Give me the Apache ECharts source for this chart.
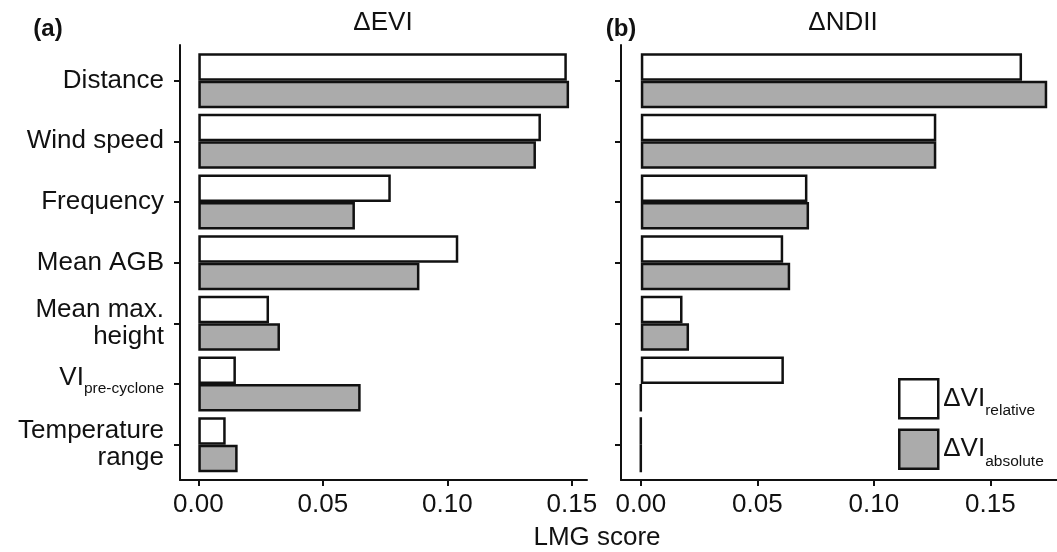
<!DOCTYPE html>
<html>
<head>
<meta charset="utf-8">
<script src="https://cdn.jsdelivr.net/npm/echarts@6/dist/echarts.min.js"></script>
<style>
html, body { margin: 0; background: #fff; }
#chart { width: 1057px; height: 552px; }
</style>
</head>
<body>
<div id="chart"></div>
<script>
var categories = ['Distance', 'Wind speed', 'Frequency', 'Mean AGB', 'Mean max. height', 'VI pre-cyclone', 'Temperature range']
var xTicks = [0, 0.05, 0.1, 0.15]
// (a) ΔEVI
var eviRelative = [0.148, 0.1376, 0.0773, 0.1044, 0.0284, 0.0151, 0.011]
var eviAbsolute = [0.1489, 0.1356, 0.0629, 0.0888, 0.0328, 0.0652, 0.0158]
// (b) ΔNDII
var ndiiRelative = [0.1636, 0.1268, 0.0715, 0.0611, 0.0179, 0.0614, 0]
var ndiiAbsolute = [0.1744, 0.1268, 0.0722, 0.0641, 0.0207, 0, 0]

var font = "'Liberation Sans', Arial, sans-serif"
var ink = '#111'
var grey = '#ababab'

function catLabel(v) {
  if (v === 'Mean max. height') return 'Mean max.\nheight'
  if (v === 'Temperature range') return 'Temperature\nrange'
  if (v === 'VI pre-cyclone') return '{m|VI}{s|pre-cyclone}'
  return v
}

function frameX(idx, min, max) {
  return {
    type: 'value', gridIndex: idx, min: min, max: max,
    axisLine: { show: true, onZero: false, lineStyle: { color: ink, width: 2 } },
    axisTick: { show: true, customValues: xTicks, length: 6, lineStyle: { color: ink, width: 2 } },
    axisLabel: {
      customValues: xTicks, margin: 12, fontSize: 26, fontFamily: font, color: ink,
      formatter: function (v) { return v.toFixed(2) }
    },
    splitLine: { show: false }
  }
}
function frameY(idx) {
  return {
    type: 'value', gridIndex: idx, min: 0, max: 1,
    axisLine: { show: true, onZero: false, lineStyle: { color: ink, width: 2 } },
    axisTick: { show: false }, axisLabel: { show: false }, splitLine: { show: false }
  }
}
function barX(idx, min, max) {
  return { type: 'value', gridIndex: idx, min: min, max: max, show: false, splitLine: { show: false } }
}
function catY(idx, labels) {
  return {
    type: 'category', gridIndex: idx, data: categories, inverse: true,
    axisLine: { show: false, onZero: false },
    axisTick: { show: true, alignWithLabel: true, length: 6, lineStyle: { color: ink, width: 2 } },
    axisLabel: {
      show: labels, margin: 16, fontSize: 26, lineHeight: 27, fontFamily: font, color: ink,
      align: 'right', formatter: catLabel,
      rich: {
        m: { fontSize: 26, fontFamily: font, color: ink, padding: [0, 0, 12, 0] },
        s: { fontSize: 15.5, fontFamily: font, color: ink, padding: [10, 0, 0, 0] }
      }
    },
    splitLine: { show: false }
  }
}
function bars(name, xi, yi, data, fill) {
  return {
    name: name, type: 'bar', xAxisIndex: xi, yAxisIndex: yi, data: data,
    barWidth: 27.5, barGap: '0%',
    itemStyle: { color: fill, borderColor: ink, borderWidth: 2.5 },
    emphasis: { disabled: true }
  }
}

var chart = echarts.init(document.getElementById('chart'))
chart.setOption({
  animation: false,
  backgroundColor: '#fff',
  grid: [
    { left: 180, width: 407, top: 45, height: 435 },
    { left: 621, width: 436, top: 45, height: 435 },
    { left: 180, width: 407, top: 50.3, height: 424.7 },
    { left: 621, width: 436, top: 50.3, height: 424.7 }
  ],
  xAxis: [
    frameX(0, -0.00735, 0.1561),
    frameX(1, -0.0085, 0.1786),
    barX(2, -0.00735, 0.1561),
    barX(3, -0.0085, 0.1786)
  ],
  yAxis: [frameY(0), frameY(1), catY(2, true), catY(3, false)],
  legend: {
    orient: 'vertical', left: 893, top: 373,
    itemWidth: 39, itemHeight: 39, itemGap: 9, icon: 'rect',
    data: ['relative', 'absolute'],
    itemStyle: { borderColor: ink, borderWidth: 2.5 },
    formatter: function (n) { return '{m|ΔVI}{s|' + n + '}' },
    textStyle: {
      rich: {
        m: { fontSize: 26, fontFamily: font, color: ink },
        s: { fontSize: 15.5, fontFamily: font, color: ink, padding: [24, 0, 0, 0] }
      }
    }
  },
  graphic: [
    { type: 'text', x: 383, y: 23, style: { text: 'ΔEVI', font: '26px ' + font, fill: ink, align: 'center', verticalAlign: 'middle' } },
    { type: 'text', x: 843, y: 23, style: { text: 'ΔNDII', font: '26px ' + font, fill: ink, align: 'center', verticalAlign: 'middle' } },
    { type: 'text', x: 48, y: 29, style: { text: '(a)', font: 'bold 24px ' + font, fill: ink, align: 'center', verticalAlign: 'middle' } },
    { type: 'text', x: 621, y: 29, style: { text: '(b)', font: 'bold 24px ' + font, fill: ink, align: 'center', verticalAlign: 'middle' } },
    { type: 'text', x: 597, y: 538, style: { text: 'LMG score', font: '26px ' + font, fill: ink, align: 'center', verticalAlign: 'middle' } }
  ],
  series: [
    bars('relative', 2, 2, eviRelative, '#fff'),
    bars('absolute', 2, 2, eviAbsolute, grey),
    bars('relative', 3, 3, ndiiRelative, '#fff'),
    bars('absolute', 3, 3, ndiiAbsolute, grey)
  ]
})
</script>
</body>
</html>
